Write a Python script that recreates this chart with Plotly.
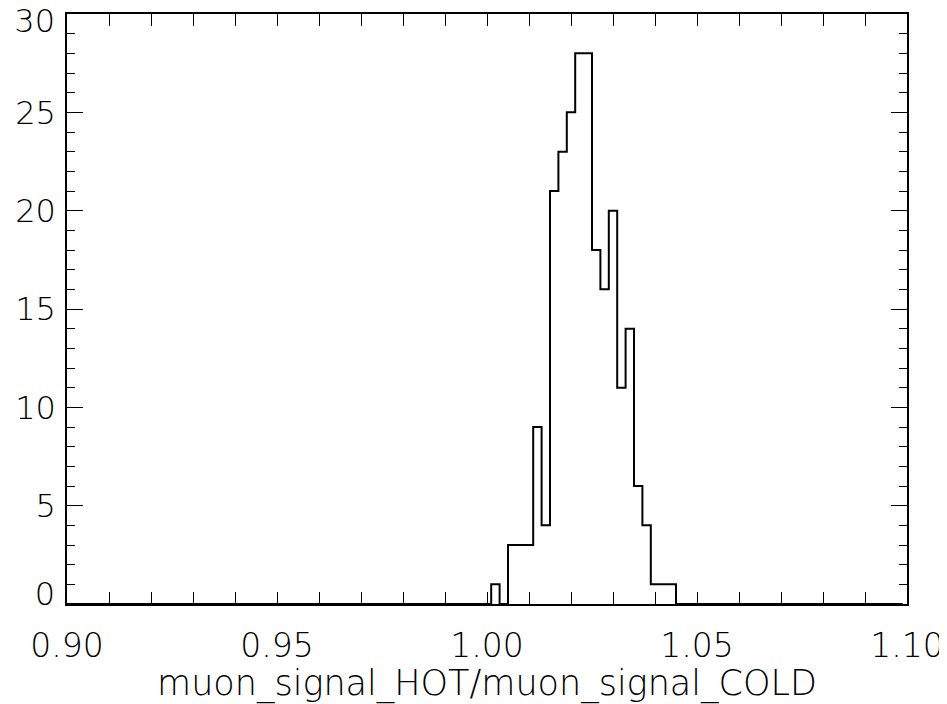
import plotly.graph_objects as go

# Histogram data
bin_start = 1.001
bin_width = 0.002
counts = [1, 0, 3, 3, 3, 9, 4, 21, 23, 25, 28, 28, 18, 16, 20, 11, 14, 6, 4, 1, 1, 1]
x_range = [0.90, 1.10]
y_range = [0, 30]
x_tickvals = [0.90, 0.95, 1.00, 1.05, 1.10]
x_ticktext = ["0.90", "0.95", "1.00", "1.05", "1.10"]
y_tickvals_mid = [5, 10, 15, 20, 25]
y_tickval_top = [30]
y_tickval_bottom = [0]
x_title = "muon_signal_HOT/muon_signal_COLD"
baseline_end = 1.099

# Build step outline from bin edges
edges = [bin_start + i * bin_width for i in range(len(counts) + 1)]
xs = [x_range[0]] + edges + [baseline_end]
ys = [0] + counts + [0, 0]

FAMILY = "DejaVu Sans ExtraLight, DejaVu Sans"
XTICKFONT = dict(family=FAMILY, size=33, color="black", weight=200)
YTICKFONT = dict(family=FAMILY, size=32, color="black", weight=200)
TITLEFONT = dict(family=FAMILY, size=35, color="black", weight=200)

fig = go.Figure()
fig.add_trace(go.Scatter(
    x=xs, y=ys, mode="lines", line=dict(shape="hv", color="black", width=2),
    showlegend=False, hoverinfo="skip"))

# page body has an 8px margin: compensate so the plot frame lands where the reference has it
fig.update_layout(
    width=939, height=696,
    margin=dict(l=59, r=40, t=6, b=100),
    paper_bgcolor="white", plot_bgcolor="white",
    font=XTICKFONT,
    showlegend=False,
)
fig.update_xaxes(
    range=x_range, showgrid=False, zeroline=False,
    showline=True, linecolor="black", linewidth=1.5, mirror="allticks",
    ticks="inside", ticklen=12, tickwidth=1.2, tickcolor="black",
    tickvals=x_tickvals, ticktext=x_ticktext,
    tickfont=XTICKFONT, ticklabelstandoff=12,
    ticklabeloverflow="allow",
    minor=dict(ticks="inside", dtick=0.01, tick0=0.9, ticklen=6, tickwidth=1.2, tickcolor="black", showgrid=False),
    title=dict(text=x_title, font=TITLEFONT, standoff=21),
    automargin=False,
)
fig.update_layout(
    yaxis=dict(
        range=y_range, showgrid=False, zeroline=False,
        showline=True, linecolor="black", linewidth=1.5, mirror="allticks",
        ticks="inside", ticklen=16, tickwidth=1.2, tickcolor="black",
        tickvals=y_tickvals_mid + y_tickval_top + y_tickval_bottom,
        ticktext=[str(v) for v in y_tickvals_mid] + [""] * 2,
        tickfont=YTICKFONT, ticklabelstandoff=3,
        ticklabeloverflow="allow",
        minor=dict(ticks="inside", dtick=1, tick0=0, ticklen=8, tickwidth=1.2, tickcolor="black", showgrid=False),
        automargin=False,
    ),
    # end labels sit slightly inside the frame, as in the reference
    yaxis2=dict(
        range=y_range, overlaying="y", anchor="x", side="left",
        showgrid=False, zeroline=False, showline=False, ticks="",
        tickvals=y_tickval_top, tickfont=YTICKFONT,
        ticklabelstandoff=11, ticklabelshift=7, ticklabeloverflow="allow",
        automargin=False,
    ),
    yaxis3=dict(
        range=y_range, overlaying="y", anchor="x", side="left",
        showgrid=False, zeroline=False, showline=False, ticks="",
        tickvals=y_tickval_bottom, tickfont=YTICKFONT,
        ticklabelstandoff=11, ticklabelshift=-10, ticklabeloverflow="allow",
        automargin=False,
    ),
)
# invisible anchors so the extra label axes are drawn
fig.add_trace(go.Scatter(x=[None], y=[None], yaxis="y2", showlegend=False, hoverinfo="skip"))
fig.add_trace(go.Scatter(x=[None], y=[None], yaxis="y3", showlegend=False, hoverinfo="skip"))

fig.write_html("out.html")
